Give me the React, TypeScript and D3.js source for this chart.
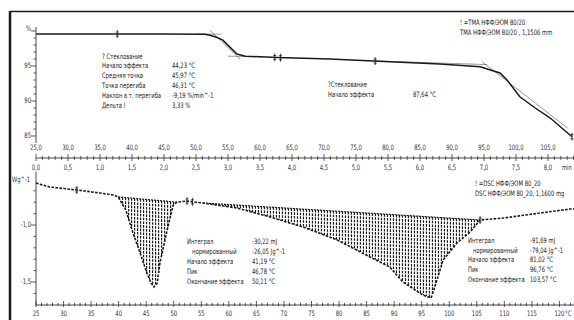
import React from "react";
import * as d3 from "d3";

// === TMA curve (top): temperature, °C -> length, % ===
const tmaTemp = [25, 35, 45, 51.4, 52.2, 53.2, 54.2, 55.3, 56.4, 57.7, 62.7, 70.9, 80.3, 88.1, 94.4, 97.5, 98.6, 100.6, 103.0, 105.3, 108.75];
const tmaPct = [99.57, 99.57, 99.56, 99.55, 99.4, 99.1, 98.7, 97.7, 96.7, 96.4, 96.2, 96.0, 95.6, 95.3, 94.9, 94.0, 93.0, 90.6, 89.0, 87.6, 84.9];

// === DSC curve (bottom): temperature, °C -> W/g ===
const dscTemp = [25, 27.5, 32.4, 36.6, 39.0, 39.9, 41.3, 42.6, 43.9, 45.1, 45.9, 46.4, 47.0, 47.5, 48.8, 49.9, 50.6, 52.4, 53.9, 55.3, 61.5, 67.5, 73.5, 79.6, 85.6, 89.2, 91.6, 93.8, 95.2, 96.1, 96.7, 97.2, 98.9, 101.4, 103.8, 105.6, 109.8, 116.5, 121.9, 125];
const dscVal = [-0.632, -0.667, -0.693, -0.719, -0.737, -0.754, -0.868, -1.07, -1.246, -1.42, -1.51, -1.544, -1.51, -1.33, -1.044, -0.825, -0.8, -0.79, -0.8, -0.807, -0.851, -0.93, -1.018, -1.13, -1.28, -1.368, -1.5, -1.57, -1.614, -1.63, -1.64, -1.57, -1.307, -1.158, -1.061, -0.956, -0.939, -0.895, -0.86, -0.85];

// integration ranges (°C) of the two peaks
const peak1Range = [39.9, 50.6];
const peak2Range = [55.3, 105.6];

// evaluation markers
const tmaMarks = [37.7, 62.3, 63.2, 78.0, 108.75];
const dscMarks = [32.4, 52.4, 53.4, 105.6];

// tangent lines on the TMA curve: [T1, P1, T2, P2]
const tmaTangents = [
  [52.2, 100.1, 56.9, 95.96],
  [50.0, 99.55, 54.0, 99.55],
  [55.0, 96.4, 59.5, 96.35],
  [78.0, 95.72, 95.5, 95.2],
  [94.7, 95.6, 108.1, 86.1],
];

// === texts ===
const glassLabels = ["Начало эффекта", "Средняя точка", "Точка перегиба", "Наклон в т. перегиба", "Дельта l"];
const glassValues = ["44,23 °C", "45,97 °C", "46,31 °C", "-9,19 %/min^-1", "3,33 %"];
const peakLabels = ["Интеграл", "нормированный", "Начало эффекта", "Пик", "Окончание эффекта"];
const peak1Values = ["-30,22 mJ", "-26,05 Jg^-1", "41,19 °C", "46,78 °C", "50,11 °C"];
const peak2Values = ["-91,69 mJ", "-79,04 Jg^-1", "81,02 °C", "96,76 °C", "103,57 °C"];

const tmaTempTicks = d3.range(25, 106, 5);
const timeTicks = d3.range(0, 8.01, 0.5);
const dscTempTicks = d3.range(25, 121, 5);
const tmaPctTicks = [95, 90, 85];
const dscValTicks = [-1.0, -1.5];

const W = 574;
const H = 320;
const FONT = "'Liberation Sans Narrow', 'DejaVu Sans Condensed', 'Liberation Sans', sans-serif";
const INK = "#1a1a1a";
const SQUEEZE = 0.78; // the original uses a narrow face

const comma = (v: number, d: number) => v.toFixed(d).replace(".", ",");

function interp(xs: number[], ys: number[], x: number) {
  const i = Math.min(Math.max(d3.bisector((d: number) => d).left(xs, x), 1), xs.length - 1);
  const t = (x - xs[i - 1]) / (xs[i] - xs[i - 1]);
  return ys[i - 1] + t * (ys[i] - ys[i - 1]);
}

const Marker = ({ x, y }: { x: number; y: number }) => (
  <g stroke={INK} strokeWidth={0.8}>
    <line x1={x} x2={x} y1={y - 4} y2={y + 4} />
    <line x1={x - 1.5} x2={x + 1.5} y1={y - 2} y2={y - 2} />
    <line x1={x - 1.5} x2={x + 1.5} y1={y + 2} y2={y + 2} />
  </g>
);

export default function App() {
  // scales
  const xT = d3.scaleLinear().domain([25, 110]).range([36, 36 + 85 * 6.4]);
  const yP = d3.scaleLinear().domain([100, 85]).range([31, 136]);
  const xTime = d3.scaleLinear().domain([0, 8.5]).range([36, 36 + 8.5 * 64]);
  const xD = d3.scaleLinear().domain([25, 125]).range([36, 36 + 100 * 5.51]);
  const yD = d3.scaleLinear().domain([-1.0, -1.5]).range([225, 282]);

  const tmaLine = d3.line<number>().x((d) => xT(d)).y((_, i) => yP(tmaPct[i]));
  const dscLine = d3.line<number>().x((d) => xD(d)).y((_, i) => yD(dscVal[i]));

  // hatching between baseline and curve for each integrated peak
  const hatch = (range: number[]) => {
    const [t0, t1] = range;
    const v0 = interp(dscTemp, dscVal, t0);
    const v1 = interp(dscTemp, dscVal, t1);
    const px0 = xD(t0);
    const px1 = xD(t1);
    return d3.range(px0 + 1.5, px1, 3).map((px) => {
      const t = xD.invert(px);
      const base = v0 + ((t - t0) / (t1 - t0)) * (v1 - v0);
      return { x: px, y1: yD(base), y2: yD(interp(dscTemp, dscVal, t)) };
    });
  };
  const hatches = [...hatch(peak1Range), ...hatch(peak2Range)];

  const axisY1 = 158; // shared time / temperature axis
  const axisY2 = 305; // DSC temperature axis

  const txt = (x: number, y: number, s: string, anchor = "start", key?: string | number) => (
    <text key={key} transform={`translate(${x},${y}) scale(${SQUEEZE},1)`} textAnchor={anchor} dominantBaseline="middle">
      {s}
    </text>
  );

  return (
    <svg width={W} height={H} style={{ position: "absolute", left: 0, top: 0, background: "#fff" }}>
      <rect width={W} height={H} fill="#fff" />
      {/* frame */}
      <line x1={10} x2={10} y1={11} y2={H} stroke={INK} strokeWidth={2.5} />
      <line x1={10} x2={W} y1={11.5} y2={11.5} stroke={INK} strokeWidth={1.5} />

      <g fontFamily={FONT} fontSize={7.5} fill="#333">
        {/* top y axis */}
        <line x1={36} x2={36} y1={27} y2={143} stroke={INK} strokeWidth={0.8} />
        {d3.range(85, 100.5, 1).map((v) => (
          <line key={"mp" + v} x1={v % 5 === 0 ? 31 : 33.5} x2={36} y1={yP(v)} y2={yP(v)} stroke={INK} strokeWidth={0.7} />
        ))}
        {tmaPctTicks.map((v) => txt(31, yP(v), String(v), "end", "p" + v))}
        {txt(31, 29, "%", "end")}

        {/* temperature labels of TMA and time axis */}
        {tmaTempTicks.map((v) => txt(xT(v), 148, comma(v, 1), "middle", "tt" + v))}
        <line x1={36} x2={W} y1={axisY1} y2={axisY1} stroke={INK} strokeWidth={0.8} />
        {d3.range(0, 85.5, 1).map((k) => {
          const major = k % 5 === 0;
          const x = xTime(k / 10);
          return (
            <line key={"tk" + k} x1={x} x2={x} y1={axisY1 - (major ? 4 : 2.2)} y2={axisY1 + (major ? 3 : 1.8)} stroke={INK} strokeWidth={0.7} />
          );
        })}
        {timeTicks.map((v) => txt(xTime(v), 168, comma(v, 1), "middle", "ti" + v))}
        {txt(562, 168, "min", "start")}

        {/* bottom y axis */}
        <line x1={36} x2={36} y1={172} y2={axisY2} stroke={INK} strokeWidth={0.8} />
        {d3.range(-1.6, -0.65, 0.1).map((v) => {
          const major = Math.abs(Math.round(v * 10) % 5) === 0;
          return (
            <line key={"md" + v} x1={major ? 31 : 33.5} x2={36} y1={yD(v)} y2={yD(v)} stroke={INK} strokeWidth={0.7} />
          );
        })}
        {dscValTicks.map((v) => txt(31, yD(v), comma(v, 1), "end", "d" + v))}
        {txt(12, 180, "Wg^-1", "start")}

        {/* bottom x axis */}
        <line x1={36} x2={W} y1={axisY2} y2={axisY2} stroke={INK} strokeWidth={0.8} />
        {d3.range(25, 126, 1).map((v) => {
          const major = v % 5 === 0;
          return (
            <line key={"bx" + v} x1={xD(v)} x2={xD(v)} y1={axisY2 - (major ? 4 : 2.2)} y2={axisY2 + (major ? 2 : 1)} stroke={INK} strokeWidth={0.7} />
          );
        })}
        {dscTempTicks.map((v) => txt(xD(v), 314, String(v), "middle", "bt" + v))}
        {txt(565, 314, "°C", "start")}
      </g>

      {/* TMA tangents */}
      <g stroke="#555" strokeWidth={0.6}>
        {tmaTangents.map((t, i) => (
          <line key={"tg" + i} x1={xT(t[0])} y1={yP(t[1])} x2={xT(t[2])} y2={yP(t[3])} />
        ))}
      </g>
      {/* TMA curve */}
      <path d={tmaLine(tmaTemp) || ""} fill="none" stroke={INK} strokeWidth={1.5} />
      {tmaMarks.map((t, i) => (
        <Marker key={"tm" + i} x={xT(t)} y={yP(interp(tmaTemp, tmaPct, t))} />
      ))}

      {/* DSC hatching */}
      <g stroke={INK} strokeWidth={1.2} strokeDasharray="2.6 1.1">
        {hatches.map((h, i) => (
          <line key={"h" + i} x1={h.x} x2={h.x} y1={h.y1} y2={h.y2} />
        ))}
      </g>
      {/* DSC baselines */}
      {[peak1Range, peak2Range].map((r, i) => (
        <line key={"bl" + i} x1={xD(r[0])} x2={xD(r[1])} y1={yD(interp(dscTemp, dscVal, r[0]))} y2={yD(interp(dscTemp, dscVal, r[1]))} stroke={INK} strokeWidth={1.2} strokeDasharray="2 1" />
      ))}
      <path d={dscLine(dscTemp) || ""} fill="none" stroke={INK} strokeWidth={1.6} strokeDasharray="2.6 1.4" />
      {dscMarks.map((t, i) => (
        <Marker key={"dm" + i} x={xD(t)} y={yD(interp(dscTemp, dscVal, t))} />
      ))}

      {/* annotations */}
      <g fontFamily={FONT} fontSize={7.5} fill="#222">
        {txt(102, 57, "? Стеклование")}
        {glassLabels.map((s, i) => txt(102, 66 + i * 10, s, "start", "gl" + i))}
        {glassValues.map((s, i) => txt(172, 66 + i * 10, s, "start", "gv" + i))}

        {txt(328, 85, "?Стеклование")}
        {txt(328, 95, "Начало эффекта")}
        {txt(413, 95, "87,64 °C")}

        {txt(460, 23, "! =TMA НФФ/ЭОМ 80/20")}
        {txt(460, 33, "TMA НФФ/ЭОМ 80/20 , 1,1506 mm")}

        {txt(475, 184, "! =DSC НФФ/ЭОМ 80_20")}
        {txt(475, 194, "DSC НФФ/ЭОМ 80_20, 1,1600 mg")}

        {peakLabels.map((s, i) => txt(i === 1 ? 192 : 187, 242 + i * 10, s, "start", "p1l" + i))}
        {peak1Values.map((s, i) => txt(252, 242 + i * 10, s, "start", "p1v" + i))}
        {peakLabels.map((s, i) => txt(i === 1 ? 473 : 468, 241 + i * 9.7, s, "start", "p2l" + i))}
        {peak2Values.map((s, i) => txt(530, 241 + i * 9.7, s, "start", "p2v" + i))}
      </g>
    </svg>
  );
}
